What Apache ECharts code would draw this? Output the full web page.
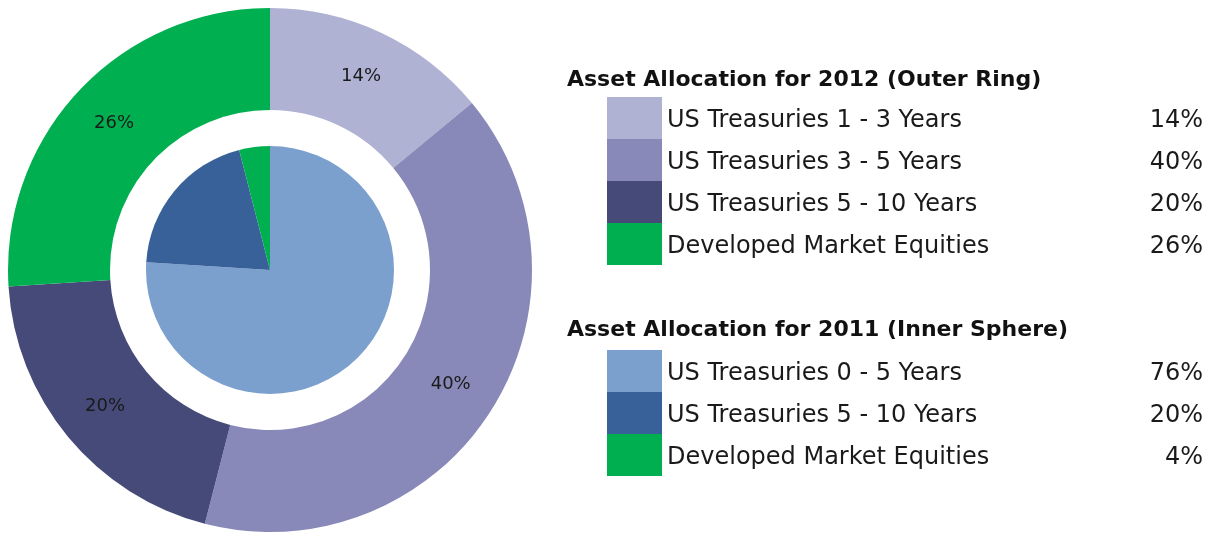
<!DOCTYPE html>
<html>
<head>
<meta charset="utf-8">
<script src="https://cdn.jsdelivr.net/npm/echarts@6/dist/echarts.min.js"></script>
<style>
  html, body { margin: 0; padding: 0; background: #fff; }
  #main { width: 1215px; height: 533px; }
</style>
</head>
<body>
<div id="main"></div>
<script>
// outer ring: 2012
const outerNames = ["US Treasuries 1 - 3 Years", "US Treasuries 3 - 5 Years", "US Treasuries 5 - 10 Years", "Developed Market Equities"];
const outerValues = [14, 40, 20, 26];
const outerColors = ["#AFB2D3", "#8889B8", "#464A78", "#00B050"];

// inner pie: 2011
const innerNames = ["US Treasuries 0 - 5 Years", "US Treasuries 5 - 10 Years", "Developed Market Equities"];
const innerValues = [76, 20, 4];
const innerColors = ["#7BA0CE", "#38619A", "#00B050"];

const FONT = "DejaVu Sans";

var chart = echarts.init(document.getElementById("main"));

function legendFor(names, values, colors, top) {
  return {
    orient: "vertical",
    left: 607,
    top: top,
    padding: 0,
    icon: "rect",
    itemWidth: 55,
    itemHeight: 42,
    itemGap: 0,
    selectedMode: false,
    data: names.map((n, i) => ({ name: n, itemStyle: { color: colors[i] } })),
    formatter: function (name) {
      const i = names.indexOf(name);
      return "{n|" + name + "}{v|" + values[i] + "%}";
    },
    textStyle: {
      fontFamily: FONT,
      fontSize: 24,
      color: "#1a1a1a",
      padding: [6, 0, 0, 0],
      rich: {
        n: { width: 466, fontFamily: FONT, fontSize: 24, color: "#1a1a1a" },
        v: { width: 70, align: "right", fontFamily: FONT, fontSize: 24, color: "#1a1a1a" }
      }
    }
  };
}

chart.setOption({
  backgroundColor: "#fff",
  animation: false,
  title: [
    {
      text: "Asset Allocation for 2012 (Outer Ring)",
      left: 562, top: 64,
      textStyle: { fontFamily: FONT, fontSize: 22, fontWeight: "bold", color: "#111" }
    },
    {
      text: "Asset Allocation for 2011 (Inner Sphere)",
      left: 562, top: 314,
      textStyle: { fontFamily: FONT, fontSize: 22, fontWeight: "bold", color: "#111" }
    }
  ],
  legend: [
    legendFor(outerNames, outerValues, outerColors, 97),
    legendFor(innerNames, innerValues, innerColors, 350)
  ],
  series: [
    {
      name: "2012",
      type: "pie",
      center: [270, 270],
      radius: [160, 262],
      startAngle: 90,
      clockwise: true,
      silent: true,
      label: {
        show: true,
        position: "inside",
        formatter: p => p.value + "%",
        fontFamily: FONT,
        fontSize: 18,
        color: "#1a1a1a"
      },
      labelLine: { show: false },
      data: outerNames.map((n, i) => ({ name: n, value: outerValues[i], itemStyle: { color: outerColors[i] } }))
    },
    {
      name: "2011",
      type: "pie",
      center: [270, 270],
      radius: [0, 124],
      startAngle: 90,
      clockwise: true,
      silent: true,
      label: { show: false },
      labelLine: { show: false },
      data: innerNames.map((n, i) => ({ name: n, value: innerValues[i], itemStyle: { color: innerColors[i] } }))
    }
  ]
});
</script>
</body>
</html>
